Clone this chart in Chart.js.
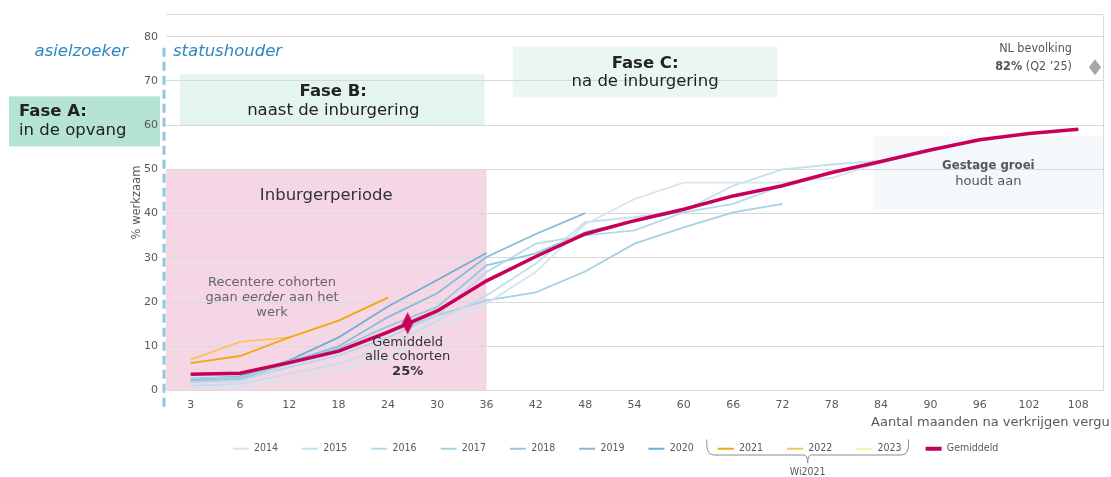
<!DOCTYPE html>
<html>
<head>
<meta charset="utf-8">
<script src="https://cdn.jsdelivr.net/npm/chart.js@4.4.1/dist/chart.umd.min.js"></script>
<style>
  html, body { margin: 0; padding: 0; background: #fff; }
  #wrap { width: 1111px; height: 477px; }
</style>
</head>
<body>
<div id="wrap"><canvas id="chartCohorten" width="1111" height="477"></canvas></div>
<script>
// ---------- data (% werkzaam per cohort, per maand na vergunning) ----------
const maanden = ['3', '6', '12', '18', '24', '30', '36', '42', '48', '54', '60', '66', '72', '78', '84', '90', '96', '102', '108'];

const c2014 = [0.7, 0.9, 2.3, 4.5, 7.5, 14, 19.7, 26.8, 37.6, 43.3, 47, 47, 47, 48.1, 51.6, 54.4, 56.7, 58.1, 59.1];
const c2015 = [1.1, 1.5, 3.8, 6, 10, 15.8, 21.5, 28.7, 38.1, 39.2, 40.7, 46.3, 50, 51.1, 52, 54.6, 56.8];
const c2016 = [1.9, 2.3, 5.3, 7.9, 12, 17, 26.8, 33.2, 35.1, 36.2, 40.3, 42.2, 46.3, 49.3, 51.9];
const c2017 = [2.8, 3.0, 6, 8.7, 13, 17, 20.4, 22.2, 26.9, 33.2, 36.9, 40.3, 42.2];
const c2018 = [2.3, 2.6, 6.2, 9.5, 14.5, 18.9, 28.3, 31, 35.8, 38.4, 40.5];
const c2019 = [2.0, 2.8, 6.5, 10, 16.6, 22, 30.2, 35.4, 40.1];
const c2020 = [2.5, 3.2, 6.8, 12, 19, 25, 31.1];
const c2021 = [6.2, 7.8, 12, 15.8, 21];
const c2022 = [7, 11, 12];
const c2023 = [7.5];
const gemiddeld = [3.7, 3.9, 6.3, 8.9, 13.2, 18, 24.8, 30.3, 35.4, 38.4, 41, 44, 46.3, 49.3, 51.8, 54.4, 56.7, 58.1, 59.1];

// markering gemiddelde na inburgerperiode
const markerMaand = 26.4;
const markerWaarde = 15.2;

const cohorten = [
  { label: '2014', data: c2014, kleur: '#d3e5ee' },
  { label: '2015', data: c2015, kleur: '#c4dfeb' },
  { label: '2016', data: c2016, kleur: '#b4d9e9' },
  { label: '2017', data: c2017, kleur: '#a5d1e5' },
  { label: '2018', data: c2018, kleur: '#96c8e0' },
  { label: '2019', data: c2019, kleur: '#84bcda' },
  { label: '2020', data: c2020, kleur: '#6eafd3' },
  { label: '2021', data: c2021, kleur: '#f3a712' },
  { label: '2022', data: c2022, kleur: '#f7c463' },
  { label: '2023', data: c2023, kleur: '#fbecb6' }
];

const FONT = '"DejaVu Sans", Verdana, sans-serif';
const FONT_COND = '"DejaVu Sans Condensed", "DejaVu Sans", sans-serif';
const MAGENTA = '#c8005a';

// maand -> positie op de categorie-as (interpolatie tussen labels)
function maandIndex(m) {
  const nums = maanden.map(Number);
  for (let i = 0; i < nums.length - 1; i++) {
    if (m >= nums[i] && m <= nums[i + 1]) return i + (m - nums[i]) / (nums[i + 1] - nums[i]);
  }
  return nums.length - 1;
}

function punten(arr) {
  return arr.map((v, i) => ({ x: i, y: v }));
}

// hoge ruit als puntstijl
function ruit(w, h, kleur) {
  const c = document.createElement('canvas');
  c.width = w; c.height = h;
  const g = c.getContext('2d');
  g.fillStyle = kleur;
  g.beginPath();
  g.moveTo(w / 2, 0); g.lineTo(w, h / 2); g.lineTo(w / 2, h); g.lineTo(0, h / 2);
  g.closePath(); g.fill();
  return c;
}

function tekstMix(ctx, delen, cx, y) {
  let totaal = 0;
  delen.forEach(d => { ctx.font = d.f; totaal += ctx.measureText(d.t).width; });
  let x = cx - totaal / 2;
  ctx.textAlign = 'left';
  delen.forEach(d => { ctx.font = d.f; ctx.fillText(d.t, x, y); x += ctx.measureText(d.t).width; });
}

function tekstMixRechts(ctx, delen, rx, y) {
  let totaal = 0;
  delen.forEach(d => { ctx.font = d.f; totaal += ctx.measureText(d.t).width; });
  tekstMix(ctx, delen, rx - totaal / 2, y);
}

// --------- vlakken achter de lijnen ---------
const vlakken = {
  id: 'vlakken',
  beforeDraw(chart) {
    const { ctx, chartArea: a, scales: { x, y } } = chart;
    ctx.save();
    const rect = (x0, y0, x1, y1, kleur) => {
      ctx.fillStyle = kleur;
      ctx.fillRect(x0, y0, x1 - x0, y1 - y0);
    };
    // Inburgerperiode (0-36 mnd, tot 50%)
    rect(a.left, y.getPixelForValue(50), x.getPixelForValue(6), y.getPixelForValue(0), '#f5d6e4');
    // Fase A
    rect(9, y.getPixelForValue(66.5), a.left - 6, y.getPixelForValue(55.2), '#b5e3d6');
    // Fase B
    rect(a.left + 14, y.getPixelForValue(71.5), x.getPixelForValue(6) - 2, y.getPixelForValue(60), '#e4f4ee');
    // Fase C
    rect(x.getPixelForValue(6.53), y.getPixelForValue(77.8), x.getPixelForValue(11.9), y.getPixelForValue(66.3), '#e9f6f1');
    // Gestage groei
    rect(x.getPixelForValue(13.85), y.getPixelForValue(57.5), a.right, y.getPixelForValue(41), '#f4f8fb');
    ctx.restore();
  }
};

// --------- teksten, kaders en legenda-accolade ---------
const teksten = {
  id: 'teksten',
  afterDraw(chart) {
    const { ctx, chartArea: a, scales: { x, y } } = chart;
    ctx.save();
    ctx.textBaseline = 'middle';

    // rand rechts
    ctx.strokeStyle = '#d9d9d9';
    ctx.lineWidth = 1;
    ctx.beginPath();
    ctx.moveTo(a.right + 0.5, a.top);
    ctx.lineTo(a.right + 0.5, a.bottom);
    ctx.stroke();

    // gestippelde scheiding asielzoeker / statushouder
    ctx.strokeStyle = '#8fc6e0';
    ctx.lineWidth = 3;
    ctx.setLineDash([9, 5]);
    ctx.beginPath();
    ctx.moveTo(a.left - 2, y.getPixelForValue(77.5));
    ctx.lineTo(a.left - 2, a.bottom + 18);
    ctx.stroke();
    ctx.setLineDash([]);

    const yAs = y.getPixelForValue(76.5);
    ctx.fillStyle = '#2e88c0';
    ctx.font = 'italic 16.5px ' + FONT;
    ctx.textAlign = 'right';
    ctx.fillText('asielzoeker', a.left - 38, yAs);
    ctx.textAlign = 'left';
    ctx.fillText('statushouder', a.left + 7, yAs);

    // Fase A
    ctx.fillStyle = '#222';
    ctx.textAlign = 'left';
    ctx.font = 'bold 16.5px ' + FONT;
    ctx.fillText('Fase A:', 19, 112);
    ctx.font = '16.5px ' + FONT;
    ctx.fillText('in de opvang', 19, 131);

    // Fase B
    ctx.textAlign = 'center';
    const bx = (a.left + 14 + x.getPixelForValue(6)) / 2;
    ctx.font = 'bold 16.5px ' + FONT;
    ctx.fillText('Fase B:', bx, y.getPixelForValue(67.5));
    ctx.font = '16.5px ' + FONT;
    ctx.fillText('naast de inburgering', bx, y.getPixelForValue(63.2));

    // Fase C
    const cx = (x.getPixelForValue(6.53) + x.getPixelForValue(11.9)) / 2;
    ctx.font = 'bold 16.5px ' + FONT;
    ctx.fillText('Fase C:', cx, y.getPixelForValue(74));
    ctx.font = '16.5px ' + FONT;
    ctx.fillText('na de inburgering', cx, y.getPixelForValue(69.9));

    // Inburgerperiode
    ctx.fillStyle = '#333';
    ctx.font = '16.5px ' + FONT;
    ctx.fillText('Inburgerperiode', (a.left + x.getPixelForValue(6)) / 2, y.getPixelForValue(44.1));

    // Recentere cohorten
    ctx.fillStyle = '#666';
    const rx = x.getPixelForValue(1.65);
    ctx.font = '13px ' + FONT;
    ctx.fillText('Recentere cohorten', rx, y.getPixelForValue(24.3));
    tekstMix(ctx, [
      { t: 'gaan ', f: '13px ' + FONT },
      { t: 'eerder', f: 'italic 13px ' + FONT },
      { t: ' aan het', f: '13px ' + FONT }
    ], rx, y.getPixelForValue(21.1));
    ctx.textAlign = 'center';
    ctx.font = '13px ' + FONT;
    ctx.fillText('werk', rx, y.getPixelForValue(17.6));

    // Gemiddeld alle cohorten
    ctx.fillStyle = '#333';
    const gx = x.getPixelForValue(maandIndex(markerMaand));
    ctx.font = '13px ' + FONT;
    ctx.fillText('Gemiddeld', gx, y.getPixelForValue(10.9));
    ctx.fillText('alle cohorten', gx, y.getPixelForValue(7.7));
    ctx.font = 'bold 13px ' + FONT;
    ctx.fillText(Math.round(gemiddeld[6]) + '%', gx, y.getPixelForValue(4.2));

    // Gestage groei
    const sx = (x.getPixelForValue(13.85) + a.right) / 2;
    ctx.fillStyle = '#555';
    ctx.font = 'bold 13px ' + FONT_COND;
    ctx.fillText('Gestage groei', sx, y.getPixelForValue(50.9));
    ctx.font = '13px ' + FONT;
    ctx.fillText('houdt aan', sx, y.getPixelForValue(47.3));

    // NL bevolking
    ctx.fillStyle = '#555';
    ctx.textAlign = 'right';
    ctx.font = '12.5px ' + FONT_COND;
    ctx.fillText('NL bevolking', a.right - 31, y.getPixelForValue(77.2));
    tekstMixRechts(ctx, [
      { t: '82%', f: 'bold 12.5px ' + FONT_COND },
      { t: ' (Q2 ’25)', f: '12.5px ' + FONT_COND }
    ], a.right - 31, y.getPixelForValue(73.1));
    const dx = a.right - 8, dy = y.getPixelForValue(73.1);
    ctx.fillStyle = '#a6a6a6';
    ctx.beginPath();
    ctx.moveTo(dx, dy - 8); ctx.lineTo(dx + 6, dy); ctx.lineTo(dx, dy + 8); ctx.lineTo(dx - 6, dy);
    ctx.closePath(); ctx.fill();

    // as-titel x
    ctx.fillStyle = '#595959';
    ctx.textAlign = 'left';
    ctx.font = '13px ' + FONT;
    ctx.fillText('Aantal maanden na verkrijgen vergunning', x.getPixelForValue(14) - 10, a.bottom + 32);

    // accolade Wi2021 onder de legenda
    const hb = chart.legend.legendHitBoxes;
    const items = chart.legend.legendItems;
    const i0 = items.findIndex(it => it.text === '2021');
    const i1 = items.findIndex(it => it.text === '2023');
    if (i0 >= 0 && i1 >= 0) {
      const l = hb[i0].left - 11;
      const r = hb[i1].left + hb[i1].width + 7;
      const top = hb[i0].top - 4;
      const bot = hb[i0].top + hb[i0].height + 1;
      const m = (l + r) / 2;
      ctx.strokeStyle = '#8c8c8c';
      ctx.lineWidth = 1;
      ctx.beginPath();
      ctx.moveTo(l, top);
      ctx.quadraticCurveTo(l - 1, bot, l + 7, bot);
      ctx.lineTo(m - 4, bot);
      ctx.quadraticCurveTo(m, bot, m, bot + 8);
      ctx.quadraticCurveTo(m, bot, m + 4, bot);
      ctx.lineTo(r - 7, bot);
      ctx.quadraticCurveTo(r + 1, bot, r, top);
      ctx.stroke();
      ctx.fillStyle = '#595959';
      ctx.textAlign = 'center';
      ctx.font = '10.5px ' + FONT_COND;
      ctx.fillText('Wi2021', m, bot + 17);
    }
    ctx.restore();
  }
};

const datasets = cohorten.map(c => ({
  label: c.label,
  data: punten(c.data),
  borderColor: c.kleur,
  backgroundColor: c.kleur,
  pointBorderColor: c.kleur,
  pointBorderWidth: 2,
  borderWidth: 1.8,
  pointRadius: 0,
  tension: 0,
  order: 2
}));

datasets.push({
  label: 'Gemiddeld',
  data: punten(gemiddeld),
  borderColor: MAGENTA,
  backgroundColor: MAGENTA,
  pointBorderColor: MAGENTA,
  pointBorderWidth: 4,
  borderWidth: 3.5,
  pointRadius: 0,
  tension: 0,
  order: 1
});

datasets.push({
  label: '',
  data: [{ x: maandIndex(markerMaand), y: markerWaarde }],
  showLine: false,
  pointStyle: ruit(11, 22, MAGENTA),
  pointRadius: 6,
  order: 0
});

new Chart(document.getElementById('chartCohorten'), {
  type: 'line',
  data: { datasets },
  options: {
    responsive: false,
    animation: false,
    layout: { padding: { left: 128, right: 8, top: 12, bottom: 13 } },
    plugins: {
      tooltip: { enabled: false },
      legend: {
        position: 'bottom',
        labels: {
          usePointStyle: true,
          pointStyle: 'line',
          pointStyleWidth: 16,
          padding: 24,
          color: '#595959',
          font: { family: FONT_COND, size: 10.5 },
          filter: it => it.text !== '',
          sort: (p, q) => p.datasetIndex - q.datasetIndex
        }
      }
    },
    scales: {
      x: {
        type: 'linear',
        min: -0.5,
        max: maanden.length - 0.5,
        afterBuildTicks: s => { s.ticks = maanden.map((m, i) => ({ value: i })); },
        afterFit: s => { s.height = 29; },
        ticks: {
          autoSkip: false,
          maxRotation: 0,
          padding: 8,
          color: '#595959',
          font: { family: FONT, size: 11 },
          callback: v => maanden[v]
        },
        grid: { display: false, drawTicks: false },
        border: { color: '#d9d9d9' }
      },
      y: {
        min: 0,
        max: 85,
        afterFit: s => { s.width = 38; },
        ticks: {
          stepSize: 10,
          padding: 8,
          color: '#595959',
          font: { family: FONT, size: 11 },
          callback: v => (v <= 80 ? v : '')
        },
        grid: { color: '#d9d9d9', drawTicks: false },
        border: { display: false },
        title: {
          display: true,
          text: '% werkzaam',
          color: '#595959',
          font: { family: FONT, size: 11.5 },
          padding: { top: 2, bottom: 0 }
        }
      }
    }
  },
  plugins: [vlakken, teksten]
});
</script>
</body>
</html>
